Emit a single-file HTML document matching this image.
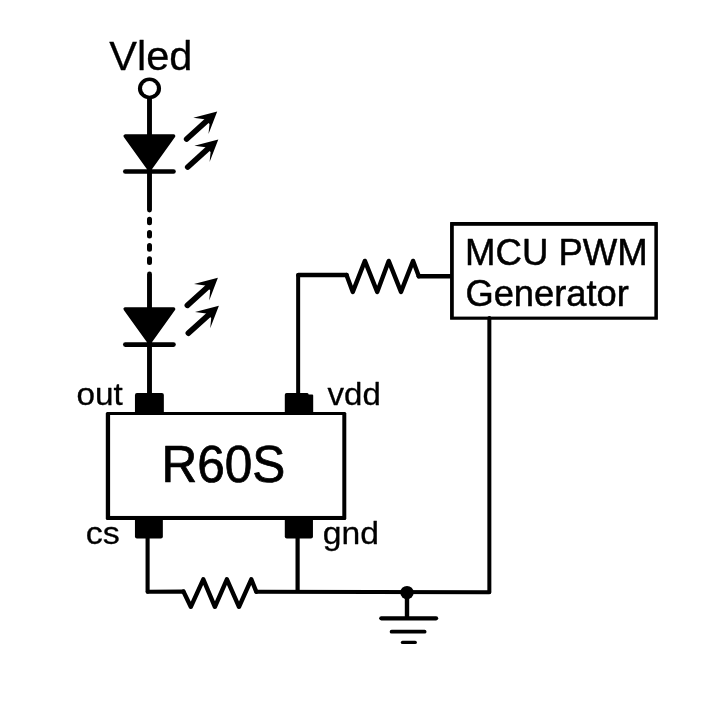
<!DOCTYPE html>
<html lang="en">
<head>
<meta charset="utf-8">
<title>R60S LED driver schematic</title>
<style>
  html, body { margin: 0; padding: 0; background: #ffffff; }
  body { width: 717px; height: 722px; overflow: hidden; }
  svg { display: block; will-change: transform; filter: grayscale(1); }
  text { font-family: "Liberation Sans", Arial, Helvetica, sans-serif; fill: #000; stroke: #000; stroke-linejoin: round; }
  .w { stroke: #000; fill: none; stroke-linecap: butt; stroke-linejoin: round; }
  .r { stroke: #000; fill: none; stroke-linecap: round; stroke-linejoin: round; }
  .f { fill: #000; stroke: none; }
  .p { fill: #000; stroke: #000; stroke-linejoin: round; }
</style>
</head>
<body>
<svg width="717" height="722" viewBox="0 0 717 722">
  <rect x="0" y="0" width="717" height="722" fill="#ffffff"/>

  <!-- Vled terminal -->
  <text transform="translate(109.270 70) scale(1.0144 0.990)" font-size="41" stroke-width="0.300">Vled</text>
  <line class="r" x1="149.500" y1="98" x2="149.500" y2="210" stroke-width="4.900"/>
  <ellipse class="f" cx="149.500" cy="88.400" rx="11.550" ry="10.850"/>
  <ellipse cx="149.500" cy="88.400" rx="7.400" ry="7.350" fill="#fff"/>

  <!-- LED 1 -->
  <g>
    <polygon class="p" points="125.200,136.050 173.600,136.050 149.450,169.800" stroke-width="3.500"/>
    <line class="r" x1="125.300" y1="171.500" x2="173.500" y2="171.500" stroke-width="4.600"/>
    <g>
      <line class="r" x1="186.700" y1="139" x2="210.300" y2="117.700" stroke-width="5.700"/>
      <polygon class="f" points="217.200,111.500 193.300,117.800 204.600,119.300 209.500,123.900 208.500,134.100"/>
    </g>
    <g transform="translate(1.100 28)">
      <line class="r" x1="186.700" y1="139" x2="210.300" y2="117.700" stroke-width="5.700"/>
      <polygon class="f" points="217.200,111.500 193.300,117.800 204.600,119.300 209.500,123.900 208.500,134.100"/>
    </g>
  </g>

  <!-- dotted section -->
  <line x1="149.500" y1="219.200" x2="149.500" y2="263" stroke="#000" stroke-width="5" stroke-linecap="round" stroke-dasharray="3.600 9.600"/>
  <line class="r" x1="149.500" y1="274" x2="149.500" y2="396" stroke-width="4.900"/>

  <!-- LED 2 -->
  <g>
    <polygon class="p" points="125.200,308.950 173.600,308.950 149.450,342.800" stroke-width="3.500"/>
    <line class="r" x1="125.300" y1="344.600" x2="173.500" y2="344.600" stroke-width="4.600"/>
    <g transform="translate(0.700 166.300)">
      <line class="r" x1="186.700" y1="139" x2="210.300" y2="117.700" stroke-width="5.700"/>
      <polygon class="f" points="217.200,111.500 193.300,117.800 204.600,119.300 209.500,123.900 208.500,134.100"/>
    </g>
    <g transform="translate(1.700 194.200)">
      <line class="r" x1="186.700" y1="139" x2="210.300" y2="117.700" stroke-width="5.700"/>
      <polygon class="f" points="217.200,111.500 193.300,117.800 204.600,119.300 209.500,123.900 208.500,134.100"/>
    </g>
  </g>

  <!-- IC pins -->
  <rect class="f" x="134.950" y="393" width="28.900" height="22" rx="2" ry="2"/>
  <path class="f" d="M284.800 415 V394.800 Q284.800 393 286.600 393 H307.300 Q308.500 393 308.700 394.600 H312.200 Q313.200 394.600 313.200 395.600 V415 Z"/>
  <rect class="f" x="134.950" y="516" width="27.900" height="22.500" rx="2" ry="2"/>
  <rect class="f" x="284.800" y="516" width="28.150" height="22.500" rx="2" ry="2"/>
  <!-- IC body -->
  <rect class="f" x="105.800" y="412" width="240.500" height="107.950" rx="1.500" ry="1.500"/>
  <rect x="110.100" y="415" width="232.200" height="100.950" fill="#fff"/>
  <text transform="translate(161.490 482) scale(1.0105 1.055)" font-size="49" stroke-width="0.700">R60S</text>
  <text transform="translate(76.500 405) scale(1.0103 0.950)" font-size="33" stroke-width="0.300">out</text>
  <text transform="translate(327.600 405) scale(1.0005 0.950)" font-size="33" stroke-width="0.300">vdd</text>
  <text transform="translate(85.700 544) scale(1.0334 0.950)" font-size="33" stroke-width="0.300">cs</text>
  <text transform="translate(322.800 544) scale(1.0214 0.950)" font-size="33" stroke-width="0.300">gnd</text>

  <!-- vdd wire + resistor to MCU -->
  <line class="r" x1="298.150" y1="396" x2="298.150" y2="275.200" stroke-width="4"/>
  <line class="r" x1="298.400" y1="275" x2="346.500" y2="275" stroke-width="4.600"/>
  <polyline class="r" points="346.500,275.100 352.800,291.900 364.900,260.900 377.200,291.900 388.700,260.900 401,291.900 413.100,260.900 418.800,276.200" stroke-width="4.400"/>
  <line class="r" x1="418.800" y1="276.200" x2="452" y2="276.200" stroke-width="4.500"/>

  <!-- MCU box -->
  <rect class="f" x="450.050" y="222.050" width="207.850" height="97.650" rx="0.500" ry="0.500"/>
  <rect x="453.800" y="225.800" width="200.550" height="90.800" fill="#fff"/>
  <text transform="translate(465.060 265) scale(1.016 1.030)" font-size="36" stroke-width="0.500">MCU PWM</text>
  <text transform="translate(465.400 306) scale(1.009 1.030)" font-size="36" stroke-width="0.500">Generator</text>

  <!-- bottom wires -->
  <line class="r" x1="147.600" y1="537" x2="147.600" y2="591.800" stroke-width="4.100"/>
  <line class="r" x1="147.800" y1="591.800" x2="183.500" y2="591.600" stroke-width="4.100"/>
  <polyline class="r" points="183.500,591.600 190.800,606.800 203.300,579.300 214.900,606.800 226.900,579.300 239,606.800 251.300,579.300 256.300,591.800" stroke-width="4.400"/>
  <line class="r" x1="256.300" y1="591.800" x2="489.300" y2="592.300" stroke-width="3.900"/>
  <line class="r" x1="489.350" y1="592" x2="489.350" y2="318" stroke-width="4"/>
  <line class="w" x1="297.600" y1="537" x2="297.600" y2="592" stroke-width="4.200"/>

  <!-- ground -->
  <circle class="f" cx="407" cy="592.600" r="6.700"/>
  <line class="w" x1="407" y1="592" x2="407" y2="618" stroke-width="4.400"/>
  <line class="r" x1="381.300" y1="618.300" x2="436.100" y2="618.300" stroke-width="4.200"/>
  <line class="r" x1="391.600" y1="631.700" x2="424.600" y2="631.700" stroke-width="3.800"/>
  <line class="r" x1="402.500" y1="642.400" x2="415.200" y2="642.400" stroke-width="3.400"/>
</svg>
</body>
</html>
